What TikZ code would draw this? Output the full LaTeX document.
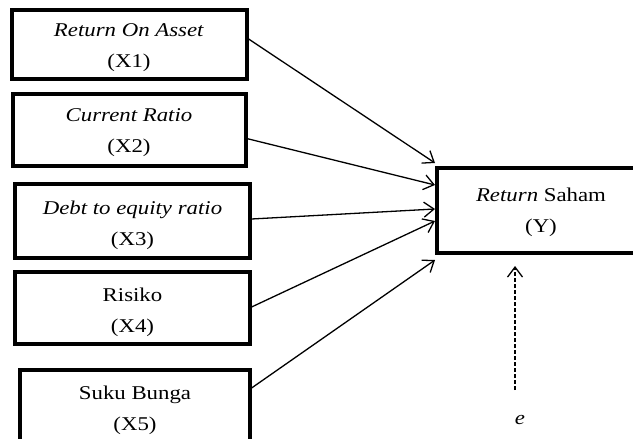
\documentclass[tikz,border=0pt]{standalone}
\usepackage{fontspec}
\usepackage{graphicx}
\setmainfont{Liberation Serif}
\usetikzlibrary{arrows.meta}
\newcommand{\sxx}[1]{\scalebox{1.17}[1]{#1}}
\begin{document}
\begin{tikzpicture}[x=1pt,y=-1pt,
  box/.style={draw=black,line width=3.2pt,rectangle,inner sep=0pt},
  lbl/.style={align=center,inner sep=0pt,font=\fontsize{19.5}{31}\selectfont},
  conn/.style={line width=1.3pt,-{Straight Barb[length=10pt,width=15pt,line width=1.3pt]}},
  dconn/.style={conn,dash pattern=on 4pt off 2pt}]
\useasboundingbox (0,0) rectangle (633,439);
\clip (0,0) rectangle (633,439);
\fill[white] (0,0) rectangle (633,439);
\node[box,minimum width=235pt,minimum height=69pt] (x1) at (129.5,44.5) {};
\node[box,minimum width=233pt,minimum height=72pt] (x2) at (129.5,130) {};
\node[box,minimum width=235pt,minimum height=74pt] (x3) at (132.5,221) {};
\node[box,minimum width=235pt,minimum height=72pt] (x4) at (132.5,308) {};
\node[box,minimum width=230pt,minimum height=72pt] (x5) at (135,406) {};
\node[box,minimum width=208pt,minimum height=85pt] (y) at (541,210.5) {};
\node[lbl] (x1l) at (129,48) {\sxx{\textit{Return On Asset}}\\\sxx{(X1)}};
\node[lbl] (x2l) at (129,133) {\sxx{\textit{Current Ratio}}\\\sxx{(X2)}};
\node[lbl] (x3l) at (132.5,225) {\sxx{\textit{Debt to equity ratio}}\\\sxx{(X3)}};
\node[lbl] (x4l) at (132.5,312) {\sxx{Risiko}\\\sxx{(X4)}};
\node[lbl] (x5l) at (135,410) {\sxx{Suku Bunga}\\\sxx{(X5)}};
\node[lbl] (yl) at (541,212) {\sxx{\textit{Return} Saham}\\\sxx{(Y)}};
\node[lbl] (e) at (520,420) {\sxx{\textit{e}}};
\coordinate (t1) at (435,163);
\coordinate (t2) at (435,185);
\coordinate (t3) at (435,209);
\coordinate (t4) at (435,221);
\coordinate (t5) at (435,260);
\coordinate (t6) at (515,266);
\coordinate (s6) at (515,390);
\draw[conn] ([yshift=5.5pt]x1.east) -- (t1);
\draw[conn] ([yshift=-8pt,xshift=-3pt]x2.east) -- (t2);
\draw[conn] ([yshift=2pt]x3.east) -- (t3);
\draw[conn] ([yshift=1pt]x4.east) -- (t4);
\draw[conn] ([yshift=18pt]x5.east) -- (t5);
\draw[dconn] (s6) -- (t6);
\end{tikzpicture}
\end{document}
